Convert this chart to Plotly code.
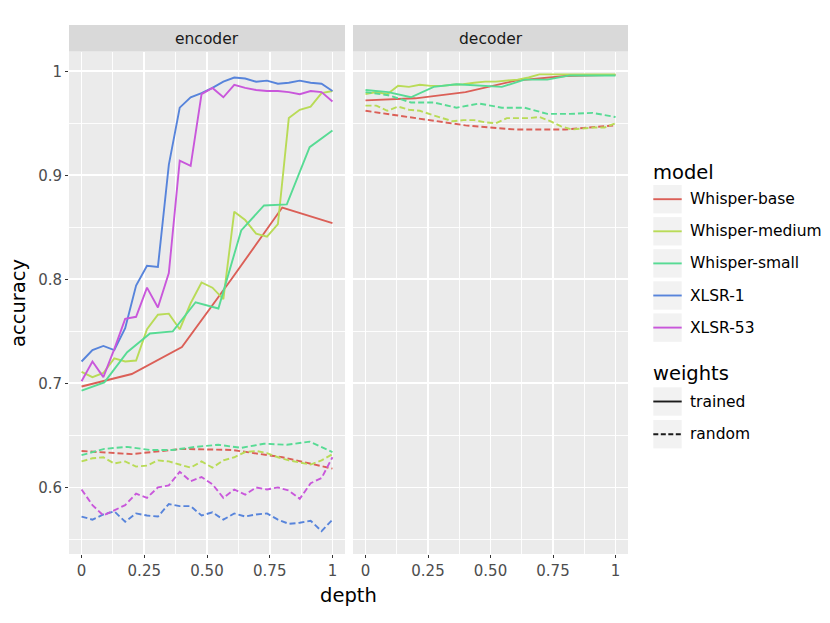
import plotly.graph_objects as go

# ---------------- data ----------------
models = ["Whisper-base", "Whisper-medium", "Whisper-small", "XLSR-1", "XLSR-53"]
colors = ["#DB5F57", "#B9DB57", "#57DB94", "#5784DB", "#C957DB"]
weights = ["trained", "random"]
panels = ["encoder", "decoder"]

n_layers = {"Whisper-base": 6, "Whisper-medium": 24, "Whisper-small": 12,
            "XLSR-1": 24, "XLSR-53": 24}

# encoder, trained weights
base_enc_trained = [0.697, 0.709, 0.735, 0.801, 0.869, 0.854]
medium_enc_trained = [0.711, 0.706, 0.710, 0.724, 0.721, 0.722, 0.752, 0.766,
                      0.767, 0.752, 0.777, 0.797, 0.792, 0.781, 0.865, 0.857,
                      0.844, 0.841, 0.853, 0.955, 0.963, 0.966, 0.979, 0.981]
small_enc_trained = [0.693, 0.701, 0.730, 0.748, 0.750, 0.778, 0.772, 0.847,
                     0.871, 0.872, 0.927, 0.943]
xlsr1_enc_trained = [0.721, 0.732, 0.736, 0.732, 0.753, 0.794, 0.813, 0.812,
                     0.910, 0.965, 0.975, 0.979, 0.984, 0.990, 0.994, 0.993,
                     0.990, 0.991, 0.988, 0.989, 0.991, 0.989, 0.988, 0.981]
xlsr53_enc_trained = [0.702, 0.721, 0.706, 0.733, 0.762, 0.764, 0.792, 0.773,
                      0.806, 0.914, 0.909, 0.978, 0.984, 0.975, 0.987, 0.984,
                      0.982, 0.981, 0.981, 0.980, 0.978, 0.981, 0.980, 0.971]

# encoder, random weights
base_enc_random = [0.635, 0.632, 0.637, 0.636, 0.629, 0.618]
medium_enc_random = [0.625, 0.628, 0.629, 0.623, 0.625, 0.620, 0.621, 0.626,
                     0.625, 0.622, 0.619, 0.625, 0.619, 0.626, 0.629, 0.634,
                     0.635, 0.633, 0.629, 0.626, 0.624, 0.622, 0.626, 0.632]
small_enc_random = [0.631, 0.637, 0.639, 0.636, 0.636, 0.639, 0.641, 0.638,
                    0.642, 0.641, 0.644, 0.634]
xlsr1_enc_random = [0.572, 0.569, 0.574, 0.577, 0.567, 0.575, 0.573, 0.572,
                    0.584, 0.582, 0.582, 0.573, 0.576, 0.569, 0.575, 0.572,
                    0.574, 0.575, 0.569, 0.565, 0.566, 0.568, 0.558, 0.569]
xlsr53_enc_random = [0.598, 0.583, 0.573, 0.578, 0.583, 0.594, 0.590, 0.600,
                     0.602, 0.615, 0.606, 0.610, 0.603, 0.590, 0.598, 0.593,
                     0.600, 0.598, 0.600, 0.597, 0.589, 0.604, 0.609, 0.629]

# decoder, trained weights
base_dec_trained = [0.972, 0.974, 0.980, 0.991, 0.9955, 0.9965]
medium_dec_trained = [0.978, 0.980, 0.978, 0.986, 0.985, 0.987, 0.986, 0.986,
                      0.987, 0.9875, 0.989, 0.990, 0.990, 0.991, 0.992, 0.994,
                      0.997, 0.997, 0.997, 0.997, 0.997, 0.997, 0.997, 0.997]
small_dec_trained = [0.982, 0.980, 0.975, 0.985, 0.9875, 0.9866, 0.985, 0.992,
                     0.992, 0.996, 0.996, 0.996]

# decoder, random weights
base_dec_random = [0.962, 0.955, 0.948, 0.944, 0.944, 0.948]
medium_dec_random = [0.967, 0.967, 0.962, 0.966, 0.963, 0.962, 0.9585, 0.9556,
                     0.952, 0.953, 0.953, 0.951, 0.950, 0.955, 0.955, 0.955,
                     0.956, 0.952, 0.947, 0.944, 0.945, 0.946, 0.946, 0.950]
small_dec_random = [0.980, 0.977, 0.970, 0.970, 0.965, 0.969, 0.965, 0.965,
                    0.959, 0.959, 0.960, 0.956]

x_ticks = [0, 0.25, 0.5, 0.75, 1]
x_tick_labels = ["0", "0.25", "0.50", "0.75", "1"]
y_ticks = [0.6, 0.7, 0.8, 0.9, 1.0]
y_tick_labels = ["0.6", "0.7", "0.8", "0.9", "1"]

series = {
    ("encoder", "trained"): [base_enc_trained, medium_enc_trained, small_enc_trained,
                             xlsr1_enc_trained, xlsr53_enc_trained],
    ("encoder", "random"): [base_enc_random, medium_enc_random, small_enc_random,
                            xlsr1_enc_random, xlsr53_enc_random],
    ("decoder", "trained"): [base_dec_trained, medium_dec_trained, small_dec_trained,
                             None, None],
    ("decoder", "random"): [base_dec_random, medium_dec_random, small_dec_random,
                            None, None],
}

# ---------------- layout geometry ----------------
W, H = 830, 623
ML, MR, MT, MB = 69, 202, 25, 69
PW = W - ML - MR
PH = H - MT - MB


def px_x(p):
    return (p - ML) / PW


def px_y(p):
    return 1 - (p - MT) / PH


FONT = "DejaVu Sans"
fig = go.Figure()

for m_i, model in enumerate(models):
    for w in weights:
        for p_i, panel in enumerate(panels):
            vals = series[(panel, w)][m_i]
            if vals is None:
                continue
            n = n_layers[model]
            depth = [k / (n - 1) for k in range(n)]
            fig.add_trace(go.Scatter(
                x=depth, y=vals, mode="lines",
                xaxis="x" if p_i == 0 else "x2",
                yaxis="y" if p_i == 0 else "y2",
                line=dict(color=colors[m_i], width=1.9,
                          dash="solid" if w == "trained" else "6px,3px"),
                showlegend=False, hoverinfo="skip"))

grid_major = dict(showgrid=True, gridcolor="white", gridwidth=1.8)
axis_common = dict(zeroline=False, showline=False, ticks="outside", ticklen=3,
                   tickwidth=1, tickcolor="#333333",
                   tickfont=dict(family=FONT, size=15, color="#4D4D4D"),
                   **grid_major)

x_minor = dict(tickvals=[0.125, 0.375, 0.625, 0.875], showgrid=True,
               gridcolor="white", gridwidth=0.9, ticks="")
y_minor = dict(tickvals=[0.55, 0.65, 0.75, 0.85, 0.95], showgrid=True,
               gridcolor="white", gridwidth=0.9, ticks="")

ytop = px_y(51.5)
fig.update_layout(
    width=W, height=H,
    margin=dict(l=ML, r=MR, t=MT, b=MB, pad=0),
    paper_bgcolor="white", plot_bgcolor="#EBEBEB",
    xaxis=dict(domain=[0, px_x(345)], range=[-0.05, 1.05], tickvals=x_ticks,
               ticktext=x_tick_labels, minor=x_minor, anchor="y", **axis_common),
    xaxis2=dict(domain=[px_x(353), 1], range=[-0.05, 1.05], tickvals=x_ticks,
                ticktext=x_tick_labels, minor=x_minor, anchor="y2", **axis_common),
    yaxis=dict(domain=[0, ytop], range=[0.536, 1.019], tickvals=y_ticks,
               ticktext=y_tick_labels, minor=y_minor, anchor="x", **axis_common),
    yaxis2=dict(domain=[0, ytop], range=[0.536, 1.019], tickvals=y_ticks,
                showticklabels=False, minor=y_minor, anchor="x2",
                **{k: v for k, v in axis_common.items() if k != "ticks"}, ticks=""),
    showlegend=False,
)

shapes = []
annotations = []
# facet strips
for p_i, panel in enumerate(panels):
    xr = "x domain" if p_i == 0 else "x2 domain"
    shapes.append(dict(type="rect", xref=xr, yref="paper", x0=0, x1=1,
                       y0=ytop, y1=px_y(25), fillcolor="#D9D9D9", line_width=0,
                       layer="below"))
    annotations.append(dict(text=panel, xref=xr, yref="paper", x=0.5,
                            y=px_y(38.5), xanchor="center", yanchor="middle",
                            showarrow=False,
                            font=dict(family=FONT, size=15.5, color="#1A1A1A")))

# axis titles
annotations.append(dict(text="depth", xref="paper", yref="paper",
                        x=px_x(348.5), y=px_y(595), xanchor="center",
                        yanchor="middle", showarrow=False,
                        font=dict(family=FONT, size=19.5, color="black")))
annotations.append(dict(text="accuracy", xref="paper", yref="paper",
                        x=px_x(18), y=px_y(303), xanchor="center",
                        yanchor="middle", textangle=-90, showarrow=False,
                        font=dict(family=FONT, size=19.5, color="black")))

# legend (drawn manually, ggplot style)
KX0, KX1 = 653.3, 681.7
KH = 28.4
LBL_X = 688


def legend_key(top, color, dash):
    shapes.append(dict(type="rect", xref="paper", yref="paper",
                       x0=px_x(KX0), x1=px_x(KX1), y0=px_y(top + KH), y1=px_y(top),
                       fillcolor="#F2F2F2", line_width=0))
    cy = top + KH / 2
    shapes.append(dict(type="line", xref="paper", yref="paper",
                       x0=px_x(KX0), x1=px_x(KX1), y0=px_y(cy), y1=px_y(cy),
                       line=dict(color=color, width=1.9, dash=dash)))
    return cy


def legend_label(text, cy):
    annotations.append(dict(text=text, xref="paper", yref="paper",
                            x=px_x(LBL_X), y=px_y(cy), xanchor="left",
                            yanchor="middle", showarrow=False,
                            font=dict(family=FONT, size=15.5, color="black")))


def legend_title(text, cy):
    annotations.append(dict(text=text, xref="paper", yref="paper",
                            x=px_x(651), y=px_y(cy), xanchor="left",
                            yanchor="middle", showarrow=False,
                            font=dict(family=FONT, size=19.5, color="black")))


legend_title("model", 172.5)
model_key_tops = [185, 217.1, 249.2, 281.3, 313.4]
for m_i, model in enumerate(models):
    cy = legend_key(model_key_tops[m_i], colors[m_i], "solid")
    legend_label(model, cy)

legend_title("weights", 373.5)
weight_key_tops = [387.3, 420]
for w_i, w in enumerate(weights):
    cy = legend_key(weight_key_tops[w_i], "#1A1A1A",
                    "solid" if w == "trained" else "5px,2.5px")
    legend_label(w, cy)

fig.update_layout(shapes=shapes, annotations=annotations)
fig.write_html("out.html",
               config={"displayModeBar": False, "staticPlot": True},
               post_script="document.body.style.margin='0px';"
                           "document.body.style.padding='0px';")
